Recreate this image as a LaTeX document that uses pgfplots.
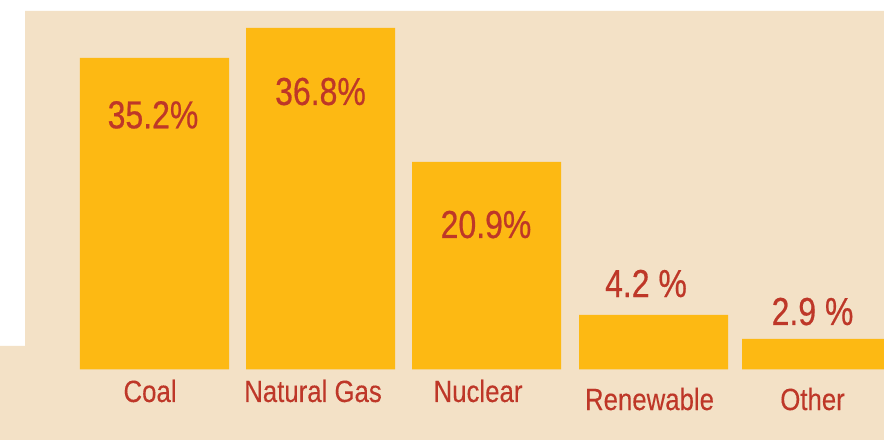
\documentclass[border=0pt]{standalone}
\usepackage{fontspec}
\setmainfont{Liberation Sans}[FakeStretch=0.84, FakeBold=0.2]
\newfontfamily\valfont{Liberation Sans}[FakeStretch=0.82, FakeBold=0.5]
\usepackage{pgfplots}
\pgfplotsset{compat=1.18}
\usepackage{pgfplotstable}
\definecolor{bg}{RGB}{243,225,198}
\definecolor{barc}{RGB}{253,185,19}
\definecolor{lab}{RGB}{190,55,40}

\pgfplotstableread{
x h
0 35.2
1 38.59
2 23.45
3.006 6.16
3.988 3.45
}\bars

\pgfplotstableread{
x y label
-0.009 27.25 {35.2\%}
1.0 29.89 {36.8\%}
1.997 14.86 {20.9\%}
2.961 8.19 {4.2 \%}
3.964 5.03 {2.9 \%}
}\vals

\pgfplotstableread{
x y label
-0.027 -3.67 {Coal}
0.955 -3.67 {Natural Gas}
1.949 -3.67 {Nuclear}
2.982 -4.58 {Renewable}
3.964 -4.58 {Other}
}\cats

\begin{document}
\begin{tikzpicture}
\path[use as bounding box] (0,0) rectangle (884bp,440bp);
\fill[white] (0,0) rectangle (884bp,440bp);
\fill[bg] (25bp,429bp) -- (884bp,429bp) -- (884bp,0) -- (0,0) -- (0,94bp) -- (25bp,94bp) -- cycle;
\begin{axis}[
  at={(0,0)}, anchor=south west,
  scale only axis, width=884bp, height=440bp,
  hide axis,
  xmin=-0.9307, xmax=4.3946,
  ymin=-7.966, ymax=41.751,
]
\addplot[ybar, bar width=0.8976, fill=barc, draw=none] table[x=x,y=h]{\bars};
\addplot[draw=none, mark=none, nodes near coords, point meta=explicit symbolic,
  every node near coord/.append style={anchor=base, inner sep=0pt, text=lab,
    font=\valfont\fontsize{39bp}{44bp}\selectfont}]
  table[x=x,y=y,meta=label]{\vals};
\addplot[draw=none, mark=none, nodes near coords, point meta=explicit symbolic,
  every node near coord/.append style={anchor=base, inner sep=0pt, text=lab,
    font=\fontsize{30.7bp}{35bp}\selectfont}]
  table[x=x,y=y,meta=label]{\cats};
\end{axis}
\end{tikzpicture}
\end{document}
